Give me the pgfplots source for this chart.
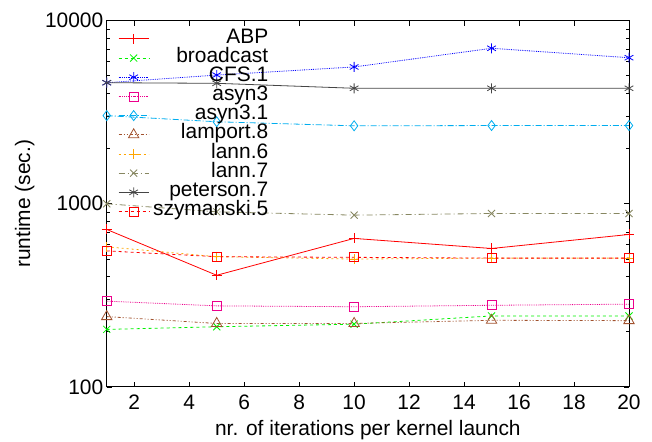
\documentclass[border=0pt]{standalone}
\usepackage{pgfplots}
\pgfplotsset{compat=1.18}
\usepackage{fontspec}
\setmainfont{Liberation Sans}
\definecolor{cgreen}{rgb}{0,0.95,0}
\definecolor{csienna}{rgb}{0.63,0.32,0.18}
\definecolor{corange}{rgb}{1,0.65,0}
\definecolor{colive}{rgb}{0.53,0.53,0.38}
\definecolor{cgray}{rgb}{0.27,0.27,0.27}
\begin{document}
\begin{tikzpicture}
\begin{axis}[
  name=ax,
  scale only axis,
  width=522bp, height=366bp,
  ymode=log,
  xmin=1, xmax=20, ymin=100, ymax=10000,
  xtick={2,4,...,20},
  ytick={100,1000,10000},
  yticklabels={100,1000,10000},
  tick align=inside,
  major tick length=5bp,
  minor tick length=3bp,
  axis line style={line width=0.9bp},
  every tick/.style={black, line width=0.7bp},
  /pgf/number format/assume math mode=true,
  tick label style={font=\fontsize{21}{24}\selectfont},
  xticklabel style={anchor=base, yshift=-22.5bp},
  label style={font=\fontsize{21}{24}\selectfont},
  xlabel={nr. of iterations per kernel launch},
  ylabel={runtime (sec.)},
  xlabel style={at={(rel axis cs:0.5,0)}, anchor=center, yshift=-43bp},
  ylabel style={at={(rel axis cs:0,0.5)}, anchor=center, yshift=82bp},
  legend cell align=right,
  legend style={draw=none, fill=none,
    at={(0.0217,0.975)}, anchor=north west, yshift=3bp, xshift=-3bp,
    font=\fontsize{21}{21}\selectfont,
    nodes={inner sep=0pt, text height=14bp, text depth=5.67bp},
    row sep=-0.5bp,
    column sep=4bp},
  legend image code/.code={\draw[#1, line width=0.8bp] plot coordinates {(0bp,0bp)(15bp,0bp)(30bp,0bp)};},
  legend image post style={mark repeat=2, mark phase=2},
  every axis plot/.append style={line width=0.8bp, mark options={solid, line width=0.8bp}},
]
\addplot[color=red, mark=+, mark size=5bp] coordinates {(1,724)(5,407)(10,647)(15,570)(20,680)};
\addlegendentry{ABP}
\addplot[cgreen, dashed, mark=x, mark size=5bp] coordinates {(1,206)(5,213)(10,220)(15,244)(20,244)};
\addlegendentry{broadcast}
\addplot[blue, densely dotted, mark=asterisk, mark size=5bp] coordinates {(1,4585)(5,5047)(10,5590)(15,7070)(20,6280)};
\addlegendentry{CFS.1}
\addplot[magenta, densely dotted, mark=square, mark size=4.5bp] coordinates {(1,294)(5,277)(10,274)(15,279)(20,283)};
\addlegendentry{asyn3}
\addplot[cyan, dash pattern=on 6bp off 2bp on 1bp off 2bp, mark=diamond, mark size=5bp] coordinates {(1,3030)(5,2806)(10,2666)(15,2675)(20,2675)};
\addlegendentry{asyn3.1}
\addplot[csienna, dash pattern=on 3bp off 2bp on 1bp off 2bp on 1bp off 2bp, mark=triangle, mark size=6bp] coordinates {(1,242)(5,222)(10,222)(15,231)(20,230)};
\addlegendentry{lamport.8}
\addplot[corange, dash pattern=on 2bp off 3bp, mark=+, mark size=5bp] coordinates {(1,582)(5,514)(10,499)(15,505)(20,505)};
\addlegendentry{lann.6}
\addplot[colive, dash pattern=on 6bp off 3bp on 1bp off 3bp, mark=x, mark size=5bp] coordinates {(1,1000)(5,904)(10,867)(15,885)(20,885)};
\addlegendentry{lann.7}
\addplot[cgray, mark=asterisk, mark size=5bp] coordinates {(1,4585)(5,4550)(10,4275)(15,4275)(20,4275)};
\addlegendentry{peterson.7}
\addplot[red, dashed, mark=square, mark size=4.5bp] coordinates {(1,553)(5,514)(10,510)(15,505)(20,505)};
\addlegendentry{szymanski.5}
\end{axis}
\pgfresetboundingbox
\path ([shift={(-106.7bp,-55bp)}]ax.south west) rectangle ([shift={(23bp,20.7bp)}]ax.north east);
\end{tikzpicture}
\end{document}
